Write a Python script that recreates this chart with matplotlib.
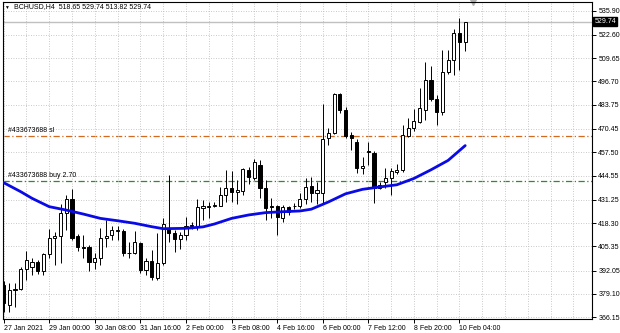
import numpy as np
import matplotlib
matplotlib.use("Agg")
import matplotlib.pyplot as plt

plt.rcParams['font.family'] = ['Liberation Sans', 'DejaVu Sans']

# H4 bars
opens = [384, 373, 381, 382, 393, 394, 396.5, 392, 401, 410,
         411, 424, 431.5, 411, 405, 405, 397, 399, 410, 411.7,
         414, 414, 401.5, 401.5, 407, 392.3, 397.5, 388, 396, 415,
         413, 409.5, 411.7, 416.5, 416.5, 426.5, 427, 427.5, 428, 434,
         438, 435.3, 436, 447.7, 443, 450.5, 437.6, 427.5, 427.5, 421,
         427.4, 427.5, 428, 431.5, 439, 435, 435, 465.2, 468.4, 489.8,
         481, 467, 463.4, 449, 458, 457, 437.6, 441, 443, 446.7,
         447.7, 466.5, 471.2, 474.5, 481, 497.5, 486.8, 480, 502, 508.6,
         523.4, 518.65]
highs = [386, 385, 385, 394, 403, 399, 398, 402, 415, 413.5,
         429, 434, 437, 412, 411.5, 406, 401.5, 415.5, 420, 416.5,
         416.5, 415, 408, 414, 408, 399, 403.4, 412.6, 421, 445,
         414.5, 413.5, 421.5, 419, 431.5, 431, 430, 430, 438.5, 447.5,
         447, 442, 449, 449.5, 454, 453.5, 442, 432, 428.5, 428.5,
         428, 429.5, 435, 443, 444, 441.2, 484, 471, 490.5, 490.5,
         482.5, 469, 465, 455, 463.4, 458, 441, 448.6, 448.6, 451,
         472.6, 476.3, 481.3, 492.9, 507.7, 505, 489, 514, 514, 525.6,
         532, 529.74]
lows = [369, 369, 372, 381, 387, 389.5, 390, 389.5, 399, 395,
        396, 414.5, 409, 403, 399, 391.5, 393, 395, 405, 409,
        409, 400, 399, 401, 390.5, 389.5, 386.8, 387, 395, 408,
        402.5, 404, 409, 415, 414.5, 420, 421, 427, 427.5, 430,
        430, 429, 434, 440, 442, 432, 420, 421, 411.7, 419,
        423, 426, 426.5, 429, 430, 428.8, 429.5, 461.5, 467.5, 479,
        465.5, 458.8, 446, 445.5, 450.5, 429.3, 437, 437.6, 434, 445.5,
        446.8, 466, 469.5, 473.5, 475.4, 486, 472.6, 478, 501, 500.3,
        503, 513.82]
closes = [374, 381.5, 382, 393, 398, 397, 392, 401, 410, 411,
          424, 431.5, 410, 405, 404.7, 397, 399, 410, 411.3, 414.5,
          414.2, 401.5, 401.8, 408, 392.3, 397.5, 388.3, 396, 418, 413,
          409.5, 411.7, 416.7, 417.3, 427, 427.5, 428, 428.5, 434, 438,
          435.3, 436.6, 448, 444, 452.3, 437.6, 426.5, 427, 421.5, 427.4,
          424.6, 428, 431.5, 438.5, 435, 436.6, 465, 468.4, 489.8, 481,
          466.5, 465.2, 448.6, 450, 457.7, 437.6, 439.4, 443.5, 447, 447.7,
          467, 471.2, 475, 482, 497.5, 486.8, 480, 502, 508.6, 523.4,
          518.65, 529.74]

# moving average, read at some bars
ma_idx = [0, 3, 5, 8, 11, 14, 17, 20, 23, 26, 28, 32, 35, 37, 40, 43, 46,
          49, 52, 54, 57, 60, 63, 66, 69, 72, 75, 78, 81]
ma_val = [440.7, 435.7, 432, 427.4, 425.5, 423.3, 420.9, 419.6, 418.2, 416.3,
          415.2, 415.4, 416.2, 417.8, 420.9, 422.8, 424.1, 424.6, 425, 426,
          430, 434.5, 437, 438.3, 439.5, 443, 447.8, 453, 461.2]

sl_level = 466.5
buy_level = 441.6
bid = 529.74

yticks = [366.15, 379.10, 392.05, 405.35, 418.30, 431.25, 444.55, 457.50,
          470.45, 483.75, 496.70, 509.65, 522.60, 535.90]
xtick_bars = [0, 8, 16, 24, 32, 40, 48, 56, 64, 72, 80]
xtick_labels = ['27 Jan 2021', '29 Jan 00:00', '30 Jan 08:00', '31 Jan 16:00',
                '2 Feb 00:00', '3 Feb 08:00', '4 Feb 16:00', '6 Feb 00:00',
                '7 Feb 12:00', '8 Feb 20:00', '10 Feb 04:00']

fig = plt.figure(figsize=(6.2, 3.33), dpi=100)
ax = fig.add_axes([3/620, 14/333, 589/620, 317/333])

o = np.array(opens); h = np.array(highs); l = np.array(lows); c = np.array(closes)
idx = np.arange(len(o))
up = c >= o

ax.axhline(bid, color='#c0c0c0', lw=1, zorder=1)
ax.axhline(sl_level, color='#d2691e', lw=0.9, ls=(0, (5, 2, 1, 2)), zorder=1)
ax.axhline(buy_level, color='#2e8b2e', lw=0.9, ls=(0, (5, 2, 1, 2)), zorder=1)

ax.vlines(idx, l, h, color='black', lw=0.7, zorder=3)
body = np.maximum(np.abs(c - o), 0.35)
ax.bar(idx[up], body[up], bottom=np.minimum(o, c)[up], width=0.55,
       color='white', edgecolor='black', lw=0.7, zorder=4)
ax.bar(idx[~up], body[~up], bottom=np.minimum(o, c)[~up], width=0.55,
       color='black', edgecolor='black', lw=0.7, zorder=4)

ax.plot(ma_idx, ma_val, color='#0a0ae6', lw=2, zorder=5, solid_capstyle='round')

ax.text(0.8, sl_level + 1.2, '#433673688 sl', fontsize=5, va='bottom', zorder=6)
ax.text(0.8, buy_level + 1.2, '#433673688 buy 2.70', fontsize=5, va='bottom', zorder=6)

ax.set_xlim(-0.1, 103.25)
ax.set_ylim(365.2, 540.7)

ax.set_yticks(yticks)
ax.set_yticklabels(['%.2f' % v for v in yticks])
ax.yaxis.tick_right()
ax.set_xticks(xtick_bars)
ax.set_xticklabels(xtick_labels, ha='left')
ax.set_xticks(np.arange(0, 104, 4), minor=True)
ax.tick_params(axis='both', which='major', labelsize=5, length=3, width=0.7, pad=1.5)
ax.tick_params(axis='x', which='minor', length=0)
ax.grid(True, which='both', axis='x', color='#b8b8b8', lw=0.6, ls=(0, (1, 2)))
ax.grid(True, which='major', axis='y', color='#b8b8b8', lw=0.6, ls=(0, (1, 2)))
for s in ax.spines.values():
    s.set_linewidth(0.8)

ax.text(1.004, bid, '529.74', transform=ax.get_yaxis_transform(), fontsize=5,
        color='white', va='center', ha='left',
        bbox=dict(boxstyle='square,pad=0.15', fc='black', ec='black'))

# shift marker on top
ax.plot([82.3], [1.0], marker='v', color='#b0b0b0', ms=4,
        transform=ax.get_xaxis_transform(), clip_on=False)

fig.text(4/620, 1 - 7/333, '\u25bc', fontsize=3.5, va='center')
fig.text(14/620, 1 - 7/333, 'BCHUSD,H4  518.65 529.74 513.82 529.74',
         fontsize=5, va='center')

fig.savefig('out.png', dpi=100)
